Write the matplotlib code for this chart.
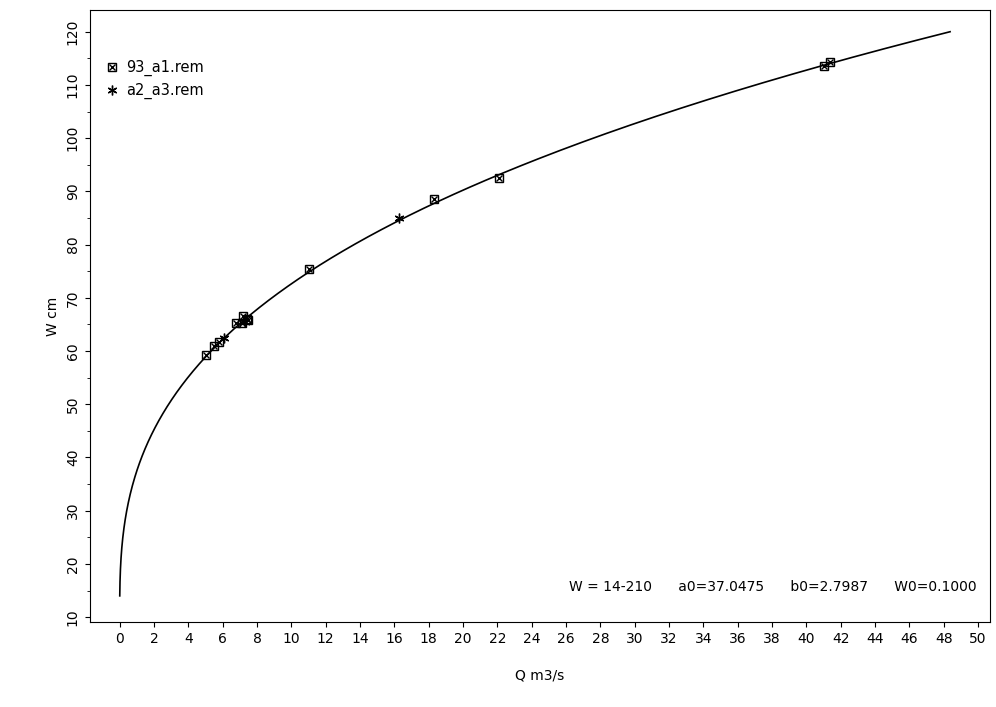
import numpy as np
import matplotlib
matplotlib.use("Agg")
import matplotlib.pyplot as plt

a0, b0, W0 = 37.0475, 2.7987, 0.1000
sq_q = [5.0, 5.5, 5.8, 6.8, 7.1, 7.2, 7.4, 7.5, 11.0, 18.3, 22.1, 41.0, 41.4]
sq_w = [59.3, 61.0, 61.7, 65.3, 65.3, 66.5, 66.0, 65.8, 75.5, 88.5, 92.5, 113.5, 114.3]
st_q = [6.1, 16.3, 7.3]
st_w = [62.5, 85.0, 65.5]
xticks = list(range(0, 52, 2))
yticks = list(range(10, 130, 10))

fig = plt.figure(figsize=(9.96, 7.07), dpi=100)
ax = fig.add_axes([0.090, 0.120, 0.904, 0.866])
w = np.linspace(14, 120, 400)
q = a0 * (w / 100 - W0) ** b0
ax.plot(q, w, color='black', lw=1.2)
h1 = ax.plot(sq_q, sq_w, ls='none', marker='s', mfc='none', mec='black', ms=6)[0]
h1b = ax.plot(sq_q, sq_w, ls='none', marker='x', color='black', ms=4)[0]
h2 = ax.plot(st_q, st_w, ls='none', marker=(6, 2, 0), color='black', ms=7)[0]
ax.set_xlim(-1.75, 50.7)
ax.set_ylim(9.06, 124.1)
ax.set_xticks(xticks)
ax.set_yticks(yticks)
ax.set_yticks(np.arange(15, 125, 10), minor=True)
ax.tick_params(labelsize=10)
for lab in ax.get_yticklabels():
    lab.set_rotation(90); lab.set_va('center')
ax.set_xlabel('Q m3/s', labelpad=16)
ax.set_ylabel('W cm')
ax.legend([(h1, h1b), h2], ['93_a1.rem', 'a2_a3.rem'], loc='upper left',
          bbox_to_anchor=(0.0, 0.94), frameon=False, fontsize=10.5, handletextpad=0.4, handlelength=1.2)
ax.text(0.985, 0.058, 'W = 14-210      a0=37.0475      b0=2.7987      W0=0.1000',
        transform=ax.transAxes, ha='right', va='center', fontsize=10)
fig.savefig('out.png')
